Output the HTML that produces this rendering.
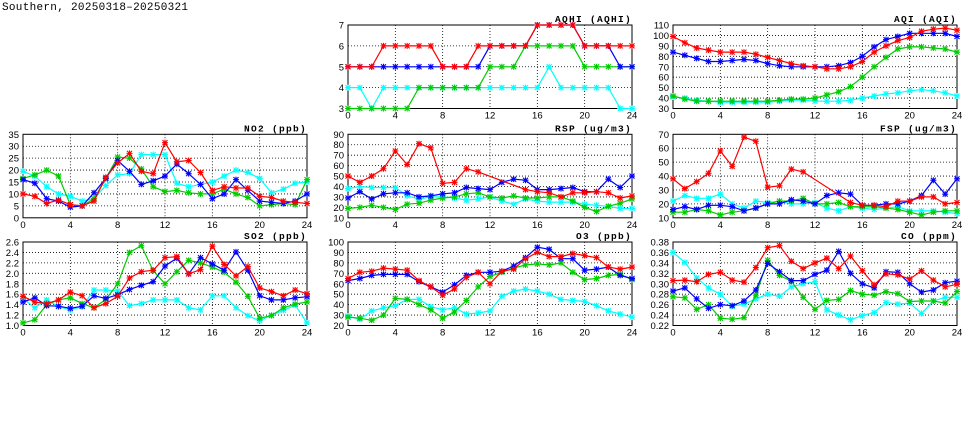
<!DOCTYPE html>
<html><head><meta charset="utf-8">
<style>
html,body{margin:0;padding:0;background:#fff;}
svg{display:block;font-family:"Liberation Sans",sans-serif;}
</style></head>
<body>
<svg id="chart" width="975" height="447" viewBox="0 0 975 447">
<text x="2" y="10" font-size="11" fill="#000" font-family="Liberation Mono, monospace" letter-spacing="0.3">Southern, 20250318–20250321</text>
</svg>
<script>
const hours = [0,1,2,3,4,5,6,7,8,9,10,11,12,13,14,15,16,17,18,19,20,21,22,23,24];
const xTickLabels = ["0","4","8","12","16","20","24"];
const seriesColors = ["#ff0000","#0000ff","#00cc00","#00ffff"];

const aqhiRed = [5,5,5,6,6,6,6,6,5,5,5,6,6,6,6,6,7,7,7,7,6,6,6,6,6];
const aqhiBlue = [5,5,5,5,5,5,5,5,5,5,5,5,6,6,6,6,7,7,7,7,6,6,6,5,5];
const aqhiGreen = [3,3,3,3,3,3,4,4,4,4,4,4,5,5,5,6,6,6,6,6,5,5,5,5,5];
const aqhiCyan = [4,4,3,4,4,4,4,4,4,4,4,4,4,4,4,4,4,5,4,4,4,4,4,3,3];
const aqhiTicks = [3,4,5,6,7];

const aqiRed = [99,93,88,86,84,84,84,82,79,76,73,71,70,68,68,70,75,84,90,95,98,104,106,107,105];
const aqiBlue = [84,81,78,75,75,76,77,76,73,71,70,70,70,70,71,74,80,89,96,99,102,102,102,102,99];
const aqiGreen = [42,39,37,37,37,37,37,37,37,38,39,39,40,43,46,51,60,70,79,87,89,89,88,87,84];
const aqiCyan = [41,40,38,37,36,36,36,36,36,37,38,38,37,37,37,38,40,42,44,45,47,48,47,45,42];
const aqiTicks = [30,40,50,60,70,80,90,100,110];

const no2Red = [10,9,6,7.5,5.5,5,7,17,23,27,19.5,18.5,31.5,23.5,24,19,11.5,13,12.5,12.5,9,8.5,7,6.5,6];
const no2Blue = [16,14.5,8,7,4.5,5,10.5,16.5,24,19.5,14,15.5,17.5,22.5,18.5,14,8,10,16,11.5,7,6.5,6,7,10];
const no2Green = [16.5,18,20,17.5,5.5,5,8,16.5,25.5,25,20.5,13,11,11.5,10.5,10,10,12,10,8.5,5,5.5,6,5.5,16];
const no2Cyan = [19.5,17.5,13,10,9,7,8,13.5,18,18.5,26.5,26.5,26.5,14.5,13,14,15,17.5,20,19,16.5,10.5,12,14.5,15];
const no2Ticks = [0,5,10,15,20,25,30,35];

const rspRed = [50,44,50,57,74,61,81,77,43,44,57,54,null,null,null,37,35,34,30,34,34,35,34,29,31];
const rspBlue = [29,35,28,33,34,34,30,31,33,34,39,38,37,44,47,46,37,37,38,39,35,35,47,39,50];
const rspGreen = [19,20,22,20,18,23,24,27,29,30,33,34,30,29,31,29,29,30,30,26,20,16,21,24,28];
const rspCyan = [38,40,39,39,39,31,28,30,30,29,27,28,30,26,23,28,26,25,25,25,23,22,21,19,19];
const rspTicks = [10,20,30,40,50,60,70,80,90];

const fspRed = [38,31,36,42,58,47,68,65,32,33,45,43,null,null,null,21,19,19,18,22,22,25,25,20,21];
const fspBlue = [16,18,16,19,19,18,15,17,20,20,23,22,20,26,28,27,19,19,20,20,22,26,37,27,38];
const fspGreen = [14,14,16,15,12,14,15,17,20,22,22,24,20,20,21,18,18,18,17,16,14,12,14,15,15];
const fspCyan = [22,26,24,24,27,20,17,22,21,22,20,20,21,17,15,18,17,16,17,18,15,15,15,14,13];
const fspTicks = [10,20,30,40,50,60,70];

const so2Red = [1.56,1.45,1.42,1.49,1.64,1.57,1.34,1.42,1.56,1.91,2.03,2.06,2.3,2.32,1.99,2.07,2.52,2.17,1.95,2.13,1.72,1.65,1.57,1.68,1.61];
const so2Blue = [1.45,1.53,1.38,1.37,1.33,1.37,1.57,1.52,1.59,1.69,1.77,1.84,2.14,2.29,1.99,2.3,2.18,2.06,2.41,2.06,1.57,1.49,1.49,1.53,1.55];
const so2Green = [1.05,1.11,1.4,1.49,1.53,1.42,1.34,1.5,1.8,2.4,2.53,2.05,1.8,2.03,2.25,2.2,2.12,2.02,1.83,1.56,1.14,1.19,1.34,1.41,1.45];
const so2Cyan = [1.52,1.34,1.49,1.36,1.3,1.36,1.68,1.68,1.66,1.38,1.42,1.49,1.49,1.49,1.34,1.3,1.57,1.57,1.34,1.19,1.09,1.2,1.29,1.39,1.05];
const so2Ticks = [1.0,1.2,1.4,1.6,1.8,2.0,2.2,2.4,2.6];

const o3Red = [65,71,72,75,74,73,63,57,49,55,66,71,60,72,74,84,90,86,86,89,87,85,76,74,76];
const o3Blue = [63,65,68,69,69,69,62,57,52,59,68,71,71,72,77,85,95,93,84,84,73,74,76,68,65];
const o3Green = [28,27,25,30,46,45,40,35,27,33,44,57,67,71,75,78,79,78,80,71,64,65,68,69,64];
const o3Cyan = [29,26,34,37,39,45,45,38,35,37,31,32,34,48,53,55,53,50,45,44,43,39,34,31,28];
const o3Ticks = [20,30,40,50,60,70,80,90,100];

const coRed = [.306,.307,.304,.318,.322,.307,.303,.331,.369,.373,.343,.329,.34,.349,.329,.353,.325,.298,.319,.317,.309,.325,.307,.294,.299];
const coBlue = [.286,.292,.271,.253,.26,.258,.267,.288,.339,.323,.306,.306,.318,.326,.362,.32,.3,.292,.323,.322,.3,.284,.288,.302,.305];
const coGreen = [.275,.273,.251,.26,.234,.232,.235,.278,.345,.316,.305,.274,.251,.268,.27,.287,.28,.278,.285,.281,.266,.267,.267,.263,.285];
const coCyan = [.36,.341,.311,.292,.28,.257,.261,.271,.28,.276,.294,.3,.304,.25,.24,.231,.239,.245,.264,.261,.263,.243,.267,.274,.274];
const coTicks = [0.22,0.24,0.26,0.28,0.30,0.32,0.34,0.36,0.38];

const svg = document.getElementById('chart');
const NS = 'http://www.w3.org/2000/svg';
function mk(tag, attrs, parent){
  const e = document.createElementNS(NS, tag);
  for (const k in attrs) e.setAttribute(k, attrs[k]);
  (parent||svg).appendChild(e);
  return e;
}

function panel(name, title, L, T, ticks, dec, series){
  const W = 284, H = 83.5;
  const g = mk('g', {});
  
  
  const ymin = ticks[0], ymax = ticks[ticks.length-1];
  const xs = h => L + h/24*W;
  const ys = v => T + H - (v-ymin)/(ymax-ymin)*H;
  ticks.forEach((t,i)=>{
    if (i>0 && i<ticks.length-1) {
      const ln = mk('line',{x1:L,x2:L+W,y1:ys(t),y2:ys(t),stroke:'#000','stroke-width':0.8,'stroke-dasharray':'1,2'},g);
      
      
    }
    const tx = mk('text',{x:L-4,y:ys(t)+3.5,'font-size':9.5,'text-anchor':'end',fill:'#000'},g);
    
    
    tx.textContent = t.toFixed(dec);
  });
  xTickLabels.forEach((lab,i)=>{
    const h = +lab;
    if (h>0 && h<24) {
      const ln = mk('line',{x1:xs(h),x2:xs(h),y1:T,y2:T+H,stroke:'#000','stroke-width':0.8,'stroke-dasharray':'1,2'},g);
      
      
    }
    const tx = mk('text',{x:xs(h),y:T+H+10,'font-size':9.5,'text-anchor':'middle',fill:'#000'},g);
    
    
    tx.textContent = lab;
  });
  const fr = mk('rect',{x:L,y:T,width:W,height:H,fill:'none',stroke:'#000','stroke-width':1},g);
  
  
  const tt = mk('text',{x:L+W,y:T-3,'font-size':9.5,'text-anchor':'end',fill:'#000','font-weight':'bold','font-family':'Liberation Mono, monospace','letter-spacing':'1.3'},g);
  
  
  tt.textContent = title;
  const sn = ['red','blue','green','cyan'];
  for (let s = series.length-1; s >= 0; s--) {
    const vals = series[s], col = seriesColors[s];
    const pts = [];
    hours.forEach((h,i)=>{ if (vals[i]!==null) pts.push([xs(h), ys(vals[i])]); });
    const pl = mk('polyline',{points:pts.map(p=>p[0].toFixed(1)+','+p[1].toFixed(1)).join(' '),fill:'none',stroke:col,'stroke-width':1.2},g);
    
    
    pts.forEach(p=>{
      const m = mk('path',{d:`M${p[0]-2.5},${p[1]-2.5}L${p[0]+2.5},${p[1]+2.5}M${p[0]-2.5},${p[1]+2.5}L${p[0]+2.5},${p[1]-2.5}M${p[0]-3},${p[1]}L${p[0]+3},${p[1]}M${p[0]},${p[1]-3}L${p[0]},${p[1]+3}`,stroke:col,'stroke-width':1.1,fill:'none'},g);
      
      
    });
  }
}

const C1 = 23, C2 = 348, C3 = 673;
const R1 = 25, R2 = 134.3, R3 = 242;
panel('aqhi','AQHI (AQHI)',C2,R1,aqhiTicks,0,[aqhiRed,aqhiBlue,aqhiGreen,aqhiCyan]);
panel('aqi','AQI (AQI)',C3,R1,aqiTicks,0,[aqiRed,aqiBlue,aqiGreen,aqiCyan]);
panel('no2','NO2 (ppb)',C1,R2,no2Ticks,0,[no2Red,no2Blue,no2Green,no2Cyan]);
panel('rsp','RSP (ug/m3)',C2,R2,rspTicks,0,[rspRed,rspBlue,rspGreen,rspCyan]);
panel('fsp','FSP (ug/m3)',C3,R2,fspTicks,0,[fspRed,fspBlue,fspGreen,fspCyan]);
panel('so2','SO2 (ppb)',C1,R3,so2Ticks,1,[so2Red,so2Blue,so2Green,so2Cyan]);
panel('o3','O3 (ppb)',C2,R3,o3Ticks,0,[o3Red,o3Blue,o3Green,o3Cyan]);
panel('co','CO (ppm)',C3,R3,coTicks,2,[coRed,coBlue,coGreen,coCyan]);
</script>
</body></html>
